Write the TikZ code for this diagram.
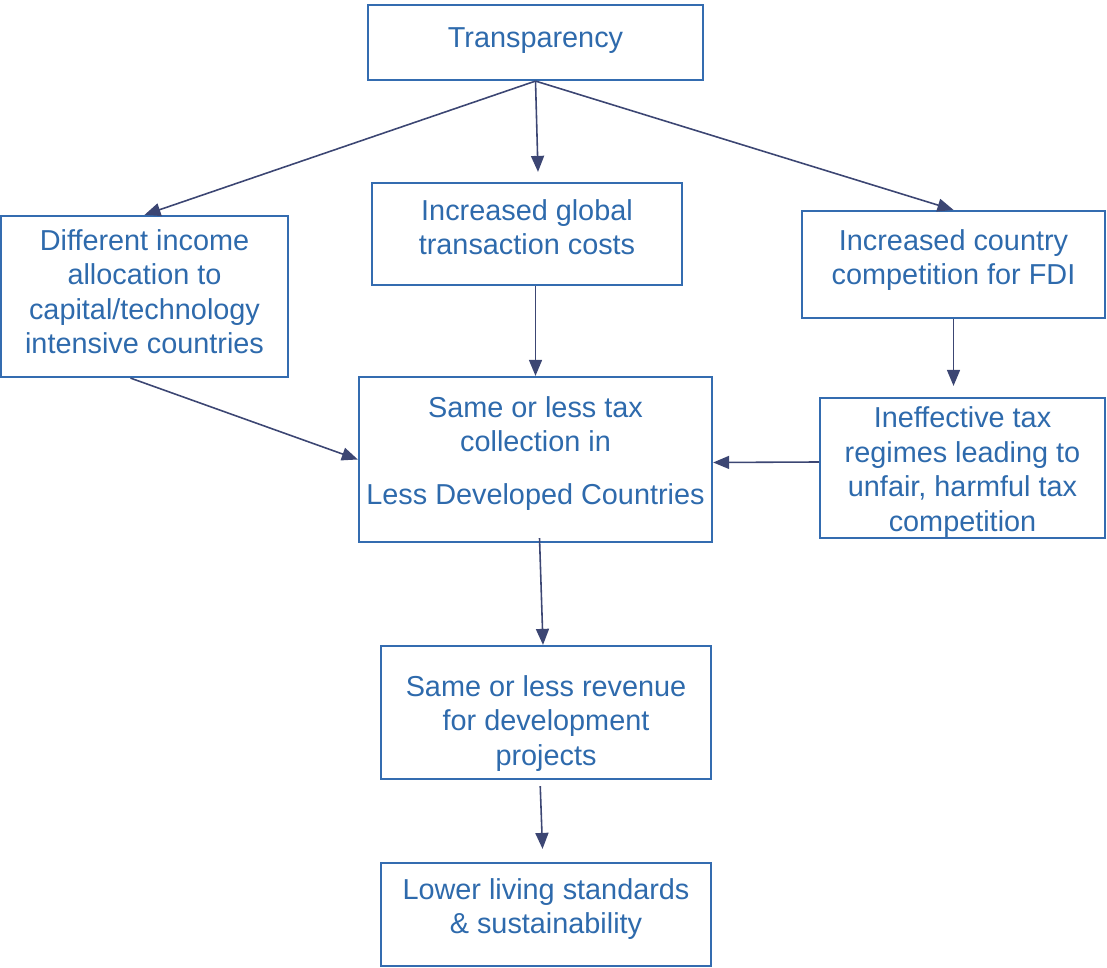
\documentclass[tikz,border=0pt]{standalone}
\usepackage{fontspec}
\setmainfont{Liberation Sans}
\usetikzlibrary{arrows.meta,calc}
\definecolor{boxblue}{RGB}{52,108,176}
\definecolor{txtblue}{RGB}{46,106,172}
\definecolor{arrownavy}{RGB}{60,70,115}

\begin{document}
\begin{tikzpicture}[x=0.01cm,y=-0.01cm,
  every node/.style={font=\fontsize{8.2}{9.8}\selectfont, text=txtblue, align=center},
  flowbox/.style={draw=boxblue, line width=0.6pt, inner sep=0pt},
  link/.style={draw=arrownavy, line width=0.45pt, -{Triangle[length=0.16cm,width=0.13cm]}}]
  \useasboundingbox (0,0) rectangle (1107,968);
  \node[flowbox, minimum width=3.35cm, minimum height=0.75cm, text depth=2.6pt] (trans) at (535.5,42.5) {Transparency};
  \node[flowbox, minimum width=2.87cm, minimum height=1.61cm, text depth=2.8pt] (income) at (144.5,296.5)
    {Different income\\allocation to\\capital/technology\\intensive countries};
  \node[flowbox, minimum width=3.10cm, minimum height=1.02cm, text depth=4pt] (global) at (527,234)
    {Increased global\\transaction costs};
  \node[flowbox, minimum width=3.03cm, minimum height=1.07cm, text depth=4.3pt] (country) at (953.5,264.5)
    {Increased country\\competition for FDI};
  \node[flowbox, minimum width=3.53cm, minimum height=1.65cm, text depth=5.1pt] (tax) at (535.5,459.5)
    {Same or less tax\\collection in\\[5.4pt]Less Developed Countries};
  \node[flowbox, minimum width=2.85cm, minimum height=1.40cm, text height=37.6pt] (ineff) at (962.5,468)
    {Ineffective tax\\regimes leading to\\unfair, harmful tax\\competition};
  \node[flowbox, minimum width=3.30cm, minimum height=1.33cm, text height=31.8pt] (revenue) at (546,712.5)
    {Same or less revenue\\for development\\projects};
  \node[flowbox, minimum width=3.30cm, minimum height=1.03cm, text depth=4.8pt] (lower) at (546,914.5)
    {Lower living standards\\\& sustainability};

  \draw[link] (trans.south) -- (income.north);
  \draw[link] (trans.south) -- ($(global.north)+(11,-10)$);
  \draw[link] (trans.south) -- (country.north);
  \draw[link] (global.south -| tax.north) -- (tax.north);
  \draw[link] ($(income.south)+(-14,0)$) -- (tax.west);
  \draw[link, shorten >=0.11cm] (country.south) -- (country.south |- ineff.north);
  \draw[link] ($(ineff.west)+(0,-6)$) -- ($(tax.east)+(0,3)$);
  \draw[link] ($(tax.south)+(4,-5)$) -- ($(revenue.north)+(-3,0)$);
  \draw[link, shorten <=0.06cm, shorten >=0.13cm] ($(revenue.south)+(-6,0)$) -- ($(lower.north)+(-3,0)$);
\end{tikzpicture}
\end{document}
